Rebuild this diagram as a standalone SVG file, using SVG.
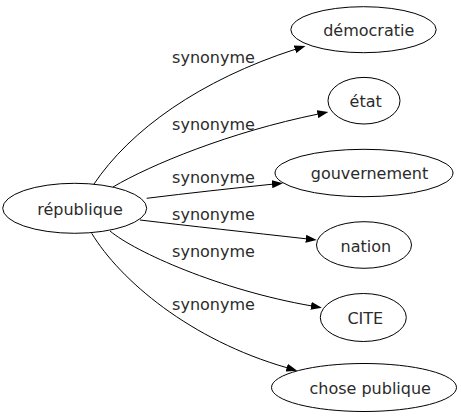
<svg xmlns="http://www.w3.org/2000/svg" width="461" height="419" viewBox="0 0 461 419">
<defs>
<marker id="arr" viewBox="0 0 11 8" refX="0.5" refY="4" markerWidth="11" markerHeight="8" markerUnits="userSpaceOnUse" orient="auto">
<path d="M0,0 L11,4 L0,8 z" fill="#000"/>
</marker>
<style>
.n ellipse{fill:#fff;stroke:#000;stroke-width:1}
text{font-family:"DejaVu Sans",sans-serif;font-size:16px;fill:#2b2b2b;text-anchor:middle}
.e path{fill:none;stroke:#000;stroke-width:1;marker-end:url(#arr)}
</style>
</defs>
<rect width="461" height="419" fill="#fff"/>
<g id="edges" class="e">
<path d="M93.3,185 C130,130 200,80 295.5,49.2"/>
<path d="M113,187 C150,165 230,132 318,114.1"/>
<path d="M146.7,198.3 C190,193 230,188.5 272.5,184.2"/>
<path d="M140,220 C190,226 250,232.5 306.3,238.8"/>
<path d="M110,231 C135,252 220,290 311.5,305.9"/>
<path d="M91.7,233.3 C120,280 190,340 287.2,367.8"/>
</g>
<g id="edge-labels">
<text x="213.5" y="62.7">synonyme</text>
<text x="213.5" y="130">synonyme</text>
<text x="213.5" y="183.3">synonyme</text>
<text x="213.5" y="220">synonyme</text>
<text x="213.5" y="256.7">synonyme</text>
<text x="213.5" y="310">synonyme</text>
</g>
<g id="republique" class="n"><ellipse cx="74.7" cy="208.3" rx="72" ry="25"/><text x="80" y="215">république</text></g>
<g id="democratie" class="n"><ellipse cx="363.5" cy="29.7" rx="72.7" ry="23"/><text x="368.7" y="35.5">démocratie</text></g>
<g id="etat" class="n"><ellipse cx="364" cy="100.7" rx="36" ry="23.3"/><text x="365.7" y="106.7">état</text></g>
<g id="gouvernement" class="n"><ellipse cx="364" cy="173" rx="89" ry="23.7"/><text x="369.5" y="179.3">gouvernement</text></g>
<g id="nation" class="n"><ellipse cx="364" cy="245" rx="47.5" ry="23.3"/><text x="365.8" y="251.5">nation</text></g>
<g id="cite" class="n"><ellipse cx="363.3" cy="317.5" rx="43" ry="24"/><text x="365.3" y="323.5">CITE</text></g>
<g id="chose-publique" class="n"><ellipse cx="364" cy="387.5" rx="92.5" ry="24"/><text x="370.2" y="394">chose publique</text></g>
</svg>
